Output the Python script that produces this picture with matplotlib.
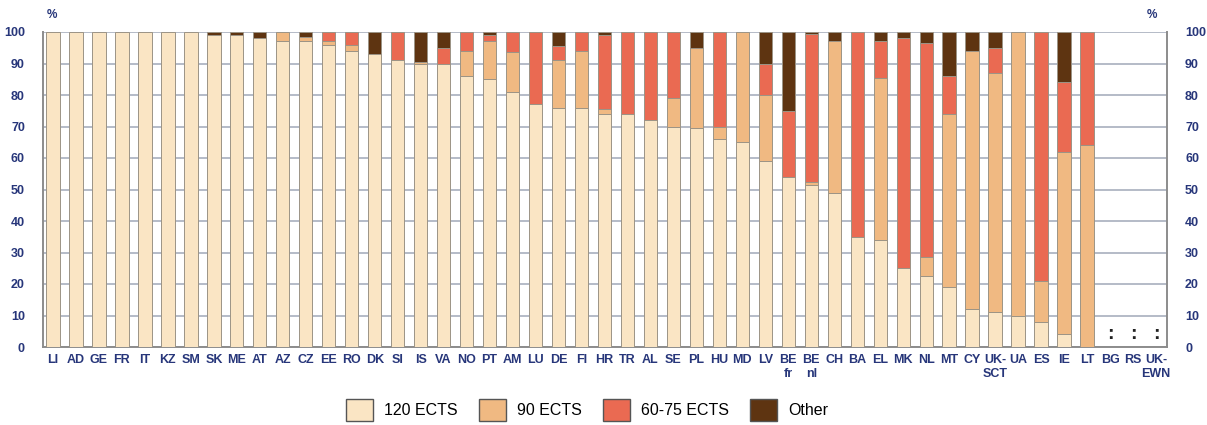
import numpy as np
import matplotlib
matplotlib.use("Agg")
import matplotlib.pyplot as plt
from matplotlib.patches import Patch

plt.rcParams['font.family'] = ['Liberation Sans', 'DejaVu Sans']

# countries (last three have no data, shown as ':')
countries = ['LI', 'AD', 'GE', 'FR', 'IT', 'KZ', 'SM', 'SK', 'ME', 'AT', 'AZ', 'CZ',
             'EE', 'RO', 'DK', 'SI', 'IS', 'VA', 'NO', 'PT', 'AM', 'LU', 'DE', 'FI',
             'HR', 'TR', 'AL', 'SE', 'PL', 'HU', 'MD', 'LV', 'BE\nfr', 'BE\nnl', 'CH',
             'BA', 'EL', 'MK', 'NL', 'MT', 'CY', 'UK-\nSCT', 'UA', 'ES', 'IE', 'LT']
no_data = ['BG', 'RS', 'UK-\nEWN']

# shares in %
ects120 = [100, 100, 100, 100, 100, 100, 100, 99, 99, 98, 97, 97,
           96, 94, 93, 91, 90, 90, 86, 85, 81, 77, 76, 76,
           74, 74, 72, 70, 69.5, 66, 65, 59, 54, 51.5, 49,
           35, 34, 25, 22.5, 19, 12, 11, 10, 8, 4, 0]
ects90 = [0, 0, 0, 0, 0, 0, 0, 0, 0, 0, 3, 1.5,
          1, 2, 0, 0, 0.5, 0, 8, 12, 12.5, 0, 15, 18,
          1.5, 0, 0, 9, 25.5, 4, 35, 21, 0, 1, 48,
          0, 51.5, 0, 6, 55, 82, 76, 90, 13, 58, 64]
ects60_75 = [0, 0, 0, 0, 0, 0, 0, 0, 0, 0, 0, 0,
             3, 4, 0, 9, 0, 5, 6, 2, 6.5, 23, 4.5, 6,
             23.5, 26, 28, 21, 0, 30, 0, 10, 21, 46.8, 0,
             65, 11.5, 73, 68, 12, 0, 8, 0, 79, 22, 36]
other = [0, 0, 0, 0, 0, 0, 0, 1, 1, 2, 0, 1.5,
         0, 0, 7, 0, 9.5, 5, 0, 1, 0, 0, 4.5, 0,
         1, 0, 0, 0, 5, 0, 0, 10, 25, 0.7, 3,
         0, 3, 2, 3.5, 14, 6, 5, 0, 0, 16, 0]

series = [('120 ECTS', ects120, '#FAE5C4'),
          ('90 ECTS', ects90, '#F0B982'),
          ('60-75 ECTS', ects60_75, '#EA6A52'),
          ('Other', other, '#5E3411')]

navy = '#27367A'
labels = countries + no_data
x = np.arange(len(labels))
xd = np.arange(len(countries))

fig = plt.figure(figsize=(12.07, 4.25), dpi=100)
ax = fig.add_axes([43 / 1207, 1 - 347 / 425, (1167 - 43) / 1207, (347 - 32) / 425])

bottom = np.zeros(len(countries))
for name, vals, col in series:
    vals = np.array(vals, dtype=float)
    keep = vals > 0
    ax.bar(xd[keep], vals[keep], 0.58, bottom=bottom[keep], color=col,
           edgecolor='#9C9486', linewidth=0.7, zorder=3)
    bottom += vals

for i in range(len(countries), len(labels)):
    ax.text(i, 1.2, ':', ha='center', va='bottom', fontsize=14,
            fontweight='bold', color='#222222', zorder=4)

ax.set_xlim(-0.435, 48.48)
ax.set_ylim(0, 100)
ax.set_yticks(range(0, 101, 10))
ax.set_xticks(x)
ax.set_xticklabels(labels, fontsize=9, fontweight='bold', color=navy,
                   linespacing=1.25, va='top')
ax.tick_params(axis='x', length=0, pad=5)
ax.tick_params(axis='y', length=0, pad=13, labelsize=9, labelcolor=navy,
               left=False, right=False, labelleft=True, labelright=True)
for t in ax.get_yticklabels():
    t.set_fontweight('bold')

ax.yaxis.grid(True, color='#A8AFBE', linewidth=1.2, zorder=0)
ax.set_axisbelow(True)
for s in ['left', 'bottom', 'right']:
    ax.spines[s].set_color('#8C8C8C')
    ax.spines[s].set_linewidth(1.4)
ax.spines['top'].set_visible(False)

fig.text(52 / 1207, 1 - 15 / 425, '%', fontsize=8.5, fontweight='bold',
         color=navy, ha='center', va='center')
fig.text(1152 / 1207, 1 - 15 / 425, '%', fontsize=8.5, fontweight='bold',
         color=navy, ha='center', va='center')

handles = [Patch(facecolor=c, edgecolor='#555555', linewidth=1.0, label=n)
           for n, _, c in series]
fig.legend(handles=handles, loc='center', bbox_to_anchor=(587 / 1207, 1 - 410 / 425),
           ncol=4, frameon=False, fontsize=11.5, handlelength=1.7, handleheight=1.7,
           handletextpad=0.7, columnspacing=1.3)

fig.savefig('out.png', dpi=100)
